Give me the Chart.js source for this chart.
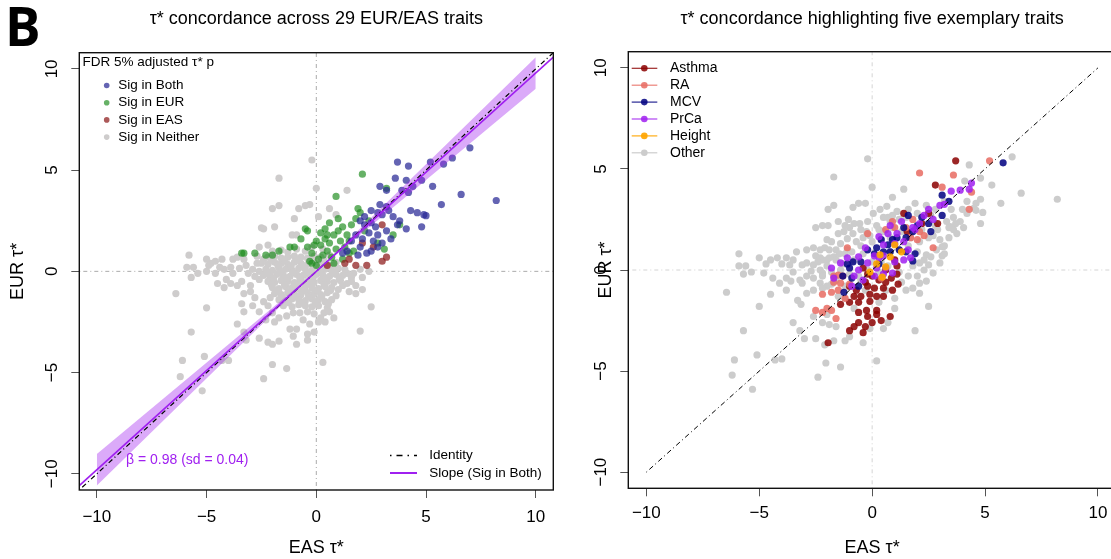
<!DOCTYPE html>
<html>
<head>
<meta charset="utf-8">
<script src="https://cdn.jsdelivr.net/npm/chart.js"></script>
<style>
  html, body { margin: 0; padding: 0; overflow: hidden; background: #fff; }
  body { width: 1111px; height: 559px; position: relative; }
  canvas { position: absolute; top: 0; }
  #left { left: 0; }
  #right { left: 560px; }
  #tag { position: absolute; left: 5px; top: -1px; font: 700 53px/53px "Open Sans", sans-serif; color: #000; }
</style>
</head>
<body>
<canvas id="left" width="570" height="559"></canvas>
<canvas id="right" width="560" height="559"></canvas>
<div id="tag">B</div>
<script>
const FONT = '"Liberation Sans", Arial, sans-serif';
Chart.defaults.font.family = FONT;
Chart.defaults.color = '#000';

// axes
const tickVals = [-10, -5, 0, 5, 10];
const axisLimits = [-10.8, 10.8];

// slope fit (Sig in Both) and its band
const slopeBeta = 0.98;
const slopeSd = 0.04;
const bandX = [-10, 0, 10];
const bandUpper = [-9.02, 0, 10.58];
const bandLower = [-10.58, 0, 9.02];
const identityRight = [-10, 10];

// left panel: EAS tau*, EUR tau* by significance
const sigBoth = [
  [7.0,6.1],[3.7,5.4],[4.2,5.2],[5.2,5.4],[6.2,5.6],[5.8,5.3],[3.6,4.6],[4.1,4.5],[4.8,4.5],[4.4,4.2],
  [5.3,4.2],[2.9,4.2],[3.2,4.0],[3.9,4.0],[4.2,3.9],[6.6,3.8],[8.2,3.5],[5.7,3.3],[4.3,3.0],[4.6,2.9],
  [4.9,2.8],[5.0,2.75],[4.8,2.2],[4.1,2.1],[2.9,3.3],[3.2,3.2],[2.8,2.9],[3.0,2.8],[3.3,3.0],[2.5,2.4],
  [2.2,2.3],[2.0,2.5],[2.4,1.9],[2.8,1.8],[3.2,2.0],[3.4,1.6],[3.7,2.3],[3.8,2.5],[3.0,1.4],[2.8,1.2],
  [1.8,1.8],[1.6,1.5],[2.0,1.2],[2.3,0.9],[1.9,0.8],[2.5,1.0],[2.6,1.5],[2.2,2.7],[2.5,3.0],[3.5,2.7],
  [1.4,1.0],[1.2,0.9],[2.1,1.6],[2.7,2.2]
];
const sigEUR = [
  [2.1,4.8],[3.2,4.1],[0.9,3.7],[1.9,3.1],[3.8,2.3],[3.5,1.8],[3.1,1.1],[-0.5,2.1],[-0.4,2.0],[-0.7,1.6],
  [-0.4,1.2],[-1.0,1.2],[-1.2,1.2],[-1.7,1.0],[-2.0,0.8],[-2.3,0.8],[-2.8,0.9],[-3.3,0.9],[-3.4,0.9],[0.4,2.1],
  [0.0,1.5],[0.2,1.3],[0.4,1.6],[0.6,1.4],[0.8,1.8],[1.0,2.0],[1.2,2.2],[1.4,1.8],[1.6,2.3],[0.5,1.0],
  [0.3,0.8],[0.1,0.6],[-0.2,0.9],[-0.3,0.5],[0.0,0.3],[0.7,0.7],[0.9,1.1],[1.1,1.5],[1.3,1.2],[1.5,1.5],
  [1.7,1.0],[0.6,2.4],[1.8,2.6],[2.0,2.9],[1.2,0.6],[0.2,1.9],[-0.1,1.3],[0.8,0.4],[1.5,0.9],[2.2,2.0],
  [2.8,1.4],[1.0,2.6],[0.5,1.8],[-0.2,0.4],[2.4,2.5]
];
const sigEAS = [
  [3.2,0.7],[3.0,0.5],[2.3,0.3],[1.8,0.3],[1.3,0.4],[2.6,1.2],[2.1,1.4],[3.0,2.3],[0.5,0.3],[1.5,0.6]
];
const sigNeither = [
  [-0.2,5.5],[-1.7,4.6],[0.0,4.1],[1.4,4.0],[-1.7,3.25],[-2.0,3.1],[-0.8,3.1],[-0.5,3.25],[-0.3,3.3],[0.1,2.7],
  [0.6,3.1],[0.9,2.8],[-2.5,2.15],[-2.4,2.1],[-1.9,2.2],[-1.0,2.6],[-1.1,1.8],[-0.9,1.8],[-2.6,1.2],[-2.2,1.3],
  [-5.8,0.8],[-5.0,0.6],[-4.8,0.4],[-4.6,0.5],[-4.3,0.6],[-5.9,0.2],[-5.6,0.2],[-5.4,-0.1],[-5.0,0.0],[-5.7,-0.3],
  [-6.4,-1.1],[-5.0,-1.8],[-5.7,-3.0],[-4.2,0.1],[-3.9,0.2],[-3.8,-0.1],[-4.1,-0.4],[-3.6,-0.7],[-4.5,-0.6],[-4.2,-0.8],
  [-4.6,-0.1],[-3.4,-0.5],[-3.0,-0.7],[-3.3,-1.1],[-3.0,-1.0],[-3.1,-0.1],[-2.9,0.1],[-2.6,0.0],[-2.6,-0.4],[-2.4,0.6],
  [-2.7,0.4],[-3.2,0.3],[-3.8,0.6],[-3.6,0.7],[-3.3,0.6],[-3.4,-1.6],[-3.3,-2.0],[-2.9,-1.7],[-2.4,-1.5],[-2.6,-2.0],
  [-2.2,-1.7],[-2.0,-2.05],[-2.3,-2.4],[-1.9,-2.5],[-1.7,-2.3],[-1.35,-2.2],[-1.05,-2.05],[-0.75,-2.05],[-3.6,-2.6],[-3.3,-3.0],
  [-2.6,-3.3],[-2.2,-3.5],[-1.7,-3.45],[-2.0,-3.6],[-1.2,-2.85],[-0.9,-2.85],[-1.05,-3.2],[-0.9,-3.6],[-0.4,-3.4],[-0.4,-3.1],
  [-0.1,-3.0],[0.1,-2.5],[0.4,-2.5],[0.8,-2.3],[0.35,-2.05],[1.5,-1.0],[1.8,-1.1],[2.1,-0.9],[2.5,-1.75],[2.0,-2.95],
  [2.4,0.0],[0.3,-4.5],[-1.35,-4.8],[-2.0,-4.6],[-2.4,-5.3],[-4.3,-4.4],[-4.0,-4.4],[-5.1,-4.2],[-6.1,-4.4],[-6.2,-5.2],
  [-5.2,-5.9],[-3.2,-3.4],[1.4,-0.1],[1.7,-0.1],[2.0,0.1],[2.1,-0.3],[1.6,-0.5],[1.2,-0.7],[1.8,-0.7],
  [-2.0,1.0],[-1.6,1.05],[-1.3,0.95],[-0.9,1.1],[-0.5,1.0],[-0.2,1.2],[0.3,1.1],
  [-2.2,0.7],[-1.9,0.75],[-1.6,0.65],[-1.3,0.7],[-1.0,0.75],[-0.7,0.7],[-0.4,0.65],[-0.1,0.75],[0.2,0.7],[0.6,0.8],
  [-2.5,0.4],[-2.2,0.35],[-1.9,0.45],[-1.6,0.4],[-1.3,0.35],[-1.0,0.45],[-0.7,0.4],[-0.4,0.35],[-0.1,0.45],[0.2,0.4],[0.5,0.35],[0.9,0.45],
  [-2.3,0.1],[-2.0,0.05],[-1.7,0.15],[-1.4,0.1],[-1.1,0.05],[-0.8,0.15],[-0.5,0.1],[-0.2,0.05],[0.1,0.15],[0.4,0.1],[0.7,0.05],[1.0,0.15],[1.3,0.1],
  [-2.4,-0.2],[-2.1,-0.25],[-1.8,-0.15],[-1.5,-0.2],[-1.2,-0.25],[-0.9,-0.15],[-0.6,-0.2],[-0.3,-0.25],[0.0,-0.15],[0.3,-0.2],[0.6,-0.25],[0.9,-0.15],[1.2,-0.2],[1.6,-0.3],
  [-2.2,-0.5],[-1.9,-0.55],[-1.6,-0.45],[-1.3,-0.5],[-1.0,-0.55],[-0.7,-0.45],[-0.4,-0.5],[-0.1,-0.55],[0.2,-0.45],[0.5,-0.5],[0.8,-0.55],[1.1,-0.45],[1.4,-0.6],
  [-2.0,-0.8],[-1.7,-0.85],[-1.4,-0.75],[-1.1,-0.8],[-0.8,-0.85],[-0.5,-0.75],[-0.2,-0.8],[0.1,-0.85],[0.4,-0.75],[0.7,-0.8],[1.0,-0.9],
  [-1.9,-1.1],[-1.6,-1.15],[-1.3,-1.05],[-1.0,-1.1],[-0.7,-1.15],[-0.4,-1.05],[-0.1,-1.1],[0.2,-1.15],[0.5,-1.05],[0.9,-1.2],
  [-1.7,-1.4],[-1.4,-1.45],[-1.1,-1.35],[-0.8,-1.4],[-0.5,-1.45],[-0.2,-1.35],[0.1,-1.4],[0.4,-1.5],[0.7,-1.4],
  [-1.5,-1.7],[-1.1,-1.75],[-0.8,-1.65],[-0.5,-1.7],[-0.2,-1.75],[0.1,-1.7],[0.5,-1.8],
  [-0.4,-2.0],[-0.1,-2.1],[0.2,-2.3],[-0.6,-2.4],[-0.3,-2.6],[0.6,-2.0],
  [-2.05,0.55],[-1.75,0.3],[-1.45,0.55],[-1.15,0.25],[-0.85,0.55],[-0.55,0.25],[-0.25,0.55],[0.05,0.3],[0.35,0.55],[0.75,0.3],
  [-2.25,-0.05],[-1.95,-0.35],[-1.65,-0.05],[-1.35,-0.35],[-1.05,-0.05],[-0.75,-0.35],[-0.45,-0.05],[-0.15,-0.35],[0.15,-0.05],[0.45,-0.35],[0.75,-0.05],[1.05,-0.35],
  [-2.05,-0.65],[-1.75,-0.95],[-1.45,-0.65],[-1.15,-0.95],[-0.85,-0.65],[-0.55,-0.95],[-0.25,-0.65],[0.05,-0.95],[0.35,-0.65],[0.65,-0.95],
  [-1.55,-1.25],[-1.25,-1.55],[-0.95,-1.25],[-0.65,-1.55],[-0.35,-1.25],[-0.05,-1.55],[0.25,-1.25],[0.55,-1.6],
  [-2.8,-0.25],[-2.7,0.75],[-3.5,0.15],[-2.8,-1.3],[-4.9,0.3],[-4.4,0.2],[-3.9,-0.6],[-2.1,-1.3]
];

// right panel: same tau* pairs by trait
const asthma = [
  [3.7,5.4],[2.8,4.2],[1.4,2.8],[2.5,2.8],[2.9,2.3],[1.55,1.9],[2.2,2.3],[1.1,-0.2],[1.15,-0.7],[0.8,-2.3],
  [0.4,-2.5],[0.2,-2.0],[-0.3,-2.8],[-0.4,-3.1],[-0.8,-2.8],[-1.0,-3.0],[-1.95,-3.6],[-1.4,-1.7],[-1.0,-1.6],[-0.6,-1.6],
  [-0.1,-1.55],[-0.25,-2.0],[-0.6,-2.1],[-0.2,-2.3],[0.2,-2.2],[-0.2,-0.8],[-0.1,-1.2],[0.2,-1.3],[0.5,-1.3],[0.1,-0.9],
  [0.5,-0.9],[0.3,-0.5],[0.6,-0.6],[0.85,-0.4],[0.0,-0.3],[-0.7,-1.0],[-0.8,-1.3],[-0.5,-1.3],[-1.0,-0.8],[-0.4,0.1],
  [-0.2,-0.2],[-0.3,-0.6],[1.1,0.2],[1.0,0.5],[0.6,0.0],[0.9,-1.0],[-0.6,-2.6],[0.0,-2.6]
];
const ra = [
  [5.2,5.4],[2.1,4.8],[3.6,4.7],[3.1,4.1],[4.4,3.85],[4.3,3.0],[2.7,1.1],[2.3,1.7],[1.5,2.1],[2.1,1.9],
  [-1.1,1.1],[-2.2,-1.2],[-1.8,-1.1],[-1.5,-1.0],[-1.4,-0.65],[-1.7,-0.6],[-2.5,-2.0],[-2.2,-2.1],[-2.0,-1.9],[-1.8,-2.0],
  [-1.6,-2.4],[-1.5,-0.25],[-1.3,-0.3],[-1.7,-0.3],[-0.2,1.8],[0.6,2.0],[1.0,2.1],[1.7,1.6],[2.0,1.5],[-1.0,-0.7],
  [-1.2,-1.4],[0.4,-0.4],[1.8,2.5],[0.9,2.4]
];
const mcv = [
  [5.8,5.3],[3.1,3.7],[3.4,3.4],[3.1,2.7],[1.6,2.7],[1.4,2.1],[2.5,2.3],[2.6,1.9],[1.5,1.6],[1.1,1.6],
  [0.7,1.25],[0.8,0.9],[0.5,0.9],[0.2,1.1],[-0.2,1.0],[0.1,0.8],[-1.1,0.3],[-0.85,0.4],[-1.0,0.1],[-0.9,-0.4],
  [-1.3,-0.3],[-1.25,-1.1],[-0.6,-0.8],[1.8,0.45],[1.9,0.8],[1.5,0.9],[0.9,1.5],[0.4,1.5],[2.0,2.2],[1.2,1.0],
  [-0.5,0.4],[0.3,0.3],[2.2,2.6],[1.8,1.9]
];
const prca = [
  [4.4,4.3],[3.9,3.95],[4.3,4.0],[3.0,3.2],[3.2,3.25],[2.5,3.0],[2.3,2.7],[1.3,2.4],[2.1,2.3],[1.8,2.1],
  [1.9,2.0],[0.7,1.8],[1.1,1.8],[0.3,1.65],[0.5,1.25],[1.0,1.3],[1.4,1.4],[0.1,0.7],[0.5,0.7],[1.0,0.4],
  [1.4,0.5],[1.7,0.6],[-0.6,0.65],[-0.2,0.35],[0.2,0.1],[0.6,0.1],[0.1,-0.3],[0.5,-0.2],[0.9,-0.15],[-1.8,0.1],
  [-1.7,-0.4],[-1.4,0.35],[-0.8,-0.3],[-0.4,-0.5],[-0.6,0.0],[-1.1,0.6],[-0.3,1.1],[0.8,2.2],[1.6,1.0],[2.7,2.5],
  [-0.9,-0.8],[0.3,0.6],[3.5,3.9]
];
const height = [
  [0.2,0.3],[0.6,0.15],[0.8,0.65],[1.0,1.25],[0.35,0.75],[-0.1,-0.1],[0.45,-0.35],[1.3,0.9]
];
const other = [
  [-0.2,5.5],[-1.7,4.6],[0.0,4.1],[1.4,4.0],[0.9,3.6],[4.3,5.2],[6.2,5.6],[4.8,4.55],[5.3,4.2],[4.1,4.4],
  [4.2,3.4],[4.6,2.95],[4.9,2.85],[4.8,2.3],[6.6,3.8],[8.2,3.5],[5.7,3.3],[4.05,2.1],[3.7,2.3],[3.6,2.6],
  [3.4,2.1],[3.1,1.15],[3.1,0.7],[3.2,0.8],[2.5,-1.8],[1.9,-3.0],[0.2,-4.5],[-1.4,-4.8],[-2.05,-4.6],[-2.4,-5.3],
  [-1.7,-3.5],[-2.1,-3.7],[-2.5,-3.4],[-3.2,-3.0],[-3.5,-2.6],[-3.0,-3.4],[-4.3,-4.45],[-4.0,-4.4],[-5.1,-4.2],[-5.7,-3.0],
  [-6.1,-4.45],[-6.2,-5.2],[-5.3,-5.9],[-6.45,-1.1],[-5.0,-1.8],[-4.5,-1.2],[-3.15,-1.7],
  [-5.9,0.8],[-5.9,0.2],[-5.6,0.2],[-5.7,-0.2],[-5.35,-0.1],[-5.0,0.6],[-4.7,0.3],[-4.5,0.5],[-4.2,0.6],
  [-4.0,0.3],[-3.8,0.6],[-3.65,0.25],[-3.5,0.5],[-4.8,-0.15],[-4.4,-0.4],[-4.1,-0.65],[-3.8,-0.4],[-3.6,-0.55],[-3.2,-0.5],
  [-3.5,-0.1],[-3.1,0.25],[-3.35,0.9],[-2.9,1.0],[-2.6,1.1],[-2.5,0.7],[-2.2,0.5],[-2.3,1.0],[-2.0,1.5],[-2.2,2.2],
  [-1.95,2.2],[-2.5,2.1],[-1.95,3.0],[-1.7,3.2],[-0.85,3.1],[-0.6,3.3],[-0.3,3.3],[0.05,2.8],[0.35,3.0],[0.65,3.15],
  [0.9,2.7],[0.8,2.4],[0.5,2.6],[-1.05,2.5],[-1.0,2.1],[-0.55,2.3],[-0.25,1.9],[-0.85,1.8],[-1.1,1.55],[-1.25,1.9],
  [-1.6,1.0],[-1.45,0.8],[-1.9,1.0],[-2.3,0.6],[-2.0,0.5],[-1.7,0.65],[-2.9,0.35],[-2.6,0.25],[-2.7,-0.05],[-2.3,0.0],
  [-2.2,-0.15],[-2.3,-0.65],[-2.0,-0.8],[-2.6,-1.0],[-2.9,-1.15],[-3.1,-0.65],[-2.9,-0.3],
  [2.1,-1.15],[1.8,-0.9],[1.5,-1.0],[2.1,-0.65],[2.4,-0.55],[2.7,-0.15],[2.5,0.25],[2.1,0.35],[2.4,0.75],[2.85,1.0],
  [3.15,1.15],[3.0,0.35],[2.6,0.65],[2.3,0.0],[3.0,1.5],[3.4,1.6],[3.6,2.0],[3.9,2.4],[4.2,2.8],[4.5,3.05],
  [3.45,2.15],[3.75,1.8],[3.2,1.2],[2.7,1.7],[2.9,2.0],[3.3,2.4],[4.0,3.0],[4.6,3.3],[4.8,3.5],
  [-1.5,2.4],[-1.2,2.2],[-0.8,2.3],[-0.5,2.0],[-0.2,2.4],[0.2,2.2],[0.5,1.9],[0.9,2.1],[1.2,2.5],[1.6,3.0],
  [2.0,2.8],[2.4,3.2],[2.8,3.0],[3.2,3.4],[3.5,3.0],[-1.8,1.4],[-1.4,1.3],[-1.1,1.0],[-0.7,1.4],[-0.4,1.6],
  [0.0,1.4],[0.4,1.5],[0.8,1.6],[1.3,1.9],[1.7,1.6],[2.1,1.4],[2.5,1.6],[2.8,2.2],[-2.4,0.4],[-2.0,0.2],
  [-1.6,0.5],[-1.2,0.8],[-0.8,0.5],[-0.4,0.8],[0.0,0.4],[0.4,0.4],[0.8,0.9],[1.2,1.0],[1.6,1.2],[2.0,0.9],
  [2.3,0.5],[1.8,0.2],[-2.6,-0.4],[-2.2,-0.3],[-1.8,-0.1],[-1.4,0.0],[-1.0,-0.2],[-0.6,-0.3],[-0.2,0.0],[0.3,-0.1],
  [0.7,0.2],[1.2,-0.1],[1.6,-0.3],[2.0,-0.3],[-2.2,-0.9],[-1.8,-0.7],[-1.5,-1.3],[-1.2,-1.4],[-0.8,-1.9],[-0.3,-1.0],
  [0.3,-1.6],[0.6,-1.0],[1.0,-1.4],[1.3,-0.6],[-2.0,-2.2],[-1.6,-2.8],[-1.2,-3.5],[-0.4,-3.6],[0.5,-2.9],[-1.0,-3.3],
  [0.7,-2.6],[-2.2,-2.6],[-0.1,-2.9],[-2.6,-2.3],[-1.9,-2.7],[1.0,-1.9],[-3.3,-1.5],[-3.8,-1.0],
  [-0.9,0.9],[-0.5,1.2],[-0.1,1.7],[0.3,2.0],[0.7,2.6],[1.1,2.9],[1.5,2.6],[1.9,3.3],[2.2,2.0],[2.6,2.7],
  [-1.3,0.3],[-1.6,-0.5],[-1.9,0.6],[-2.1,1.1],[-1.5,1.8],[-1.2,-0.8],[-0.5,-0.5]
];

const sigLabels = ['Sig in Both', 'Sig in EUR', 'Sig in EAS', 'Sig in Neither'];
const sigColors = ['rgba(40,40,150,0.72)', 'rgba(30,140,30,0.68)', 'rgba(140,25,25,0.72)', 'rgb(206,204,204)'];
const traitLabels = ['Asthma', 'RA', 'MCV', 'PrCa', 'Height', 'Other'];
const traitColors = ['rgba(139,0,0,0.85)', 'rgba(232,112,102,0.88)', 'rgba(0,0,128,0.85)', 'rgba(160,32,240,0.85)', 'rgba(255,165,0,0.92)', 'rgb(204,204,204)'];
const PURPLE = 'rgb(160,32,240)';

const toXY = arr => arr.map(([x, y]) => ({ x, y }));
const fmt = v => (v < 0 ? '\u2212' + Math.abs(v) : String(v));

function dots(label, data, color, order) {
  return { type: 'scatter', label, data: toXY(data), backgroundColor: color, borderWidth: 0,
           pointRadius: 3.6, pointHoverRadius: 3.6, order };
}
function line(xs, ys, color, width, dash, order, extra) {
  return Object.assign({ type: 'line', data: xs.map((x, i) => ({ x, y: ys[i] })), borderColor: color,
    borderWidth: width, borderDash: dash, pointRadius: 0, fill: false, tension: 0, order }, extra || {});
}

function axes(o) {
  const base = () => ({
    type: 'linear', min: axisLimits[0], max: axisLimits[1],
    afterBuildTicks: s => { s.ticks = tickVals.map(v => ({ value: v })); },
    grid: { drawOnChartArea: false, drawTicks: true, tickLength: 8, color: '#555', lineWidth: 1 },
    border: { display: false }
  });
  return {
    x: Object.assign(base(), {
      position: 'bottom',
      ticks: { font: { size: 17 }, color: '#000', padding: o.xPad, maxRotation: 0, callback: v => fmt(v) },
      title: { display: true, text: 'EAS τ*', font: { size: 18 }, color: '#000', padding: { top: 0, bottom: 0 } },
      afterFit: s => { s.height = o.xH; }
    }),
    y: Object.assign(base(), {
      position: 'left',
      ticks: { display: false },
      title: { display: true, text: 'EUR τ*', font: { size: 18 }, color: '#000', padding: { top: o.yTitle, bottom: 0 } },
      afterFit: s => { s.width = o.yW; }
    })
  };
}

// box, rotated y tick labels (R style) and the panel title
const frame = {
  id: 'frame',
  afterDraw(chart, args, opts) {
    const { ctx, chartArea: a } = chart;
    const ys = chart.scales.y;
    ctx.save();
    ctx.strokeStyle = '#111';
    ctx.lineWidth = 1.4;
    ctx.strokeRect(a.left, a.top, a.right - a.left, a.bottom - a.top);
    ctx.fillStyle = '#000';
    ctx.font = '17px ' + FONT;
    ctx.textAlign = 'center';
    ctx.textBaseline = 'middle';
    tickVals.forEach(v => {
      ctx.save();
      ctx.translate(a.left - 27, ys.getPixelForValue(v));
      ctx.rotate(-Math.PI / 2);
      ctx.fillText(fmt(v), 0, 0);
      ctx.restore();
    });
    ctx.font = '18px ' + FONT;
    ctx.textBaseline = 'alphabetic';
    ctx.fillText(opts.title, (a.left + a.right) / 2, 24);
    ctx.restore();
  }
};

const leftLegend = {
  id: 'leftLegend',
  afterDraw(chart) {
    const ctx = chart.ctx;
    ctx.save();
    ctx.font = '13.5px ' + FONT;
    ctx.textAlign = 'left';
    ctx.textBaseline = 'middle';
    ctx.fillStyle = '#000';
    ctx.fillText('FDR 5% adjusted τ* p', 82.5, 62.5);
    sigLabels.forEach((lab, i) => {
      const y = 85.5 + i * 17.2;
      ctx.beginPath();
      ctx.arc(106.7, y, 2.8, 0, Math.PI * 2);
      ctx.fillStyle = sigColors[i];
      ctx.fill();
      ctx.fillStyle = '#000';
      ctx.fillText(lab, 118.3, y);
    });
    // fit legend, bottom right
    ctx.lineWidth = 1.5;
    ctx.strokeStyle = '#000';
    ctx.setLineDash([1.5, 5, 6, 5]);
    ctx.beginPath(); ctx.moveTo(390, 455.5); ctx.lineTo(417, 455.5); ctx.stroke();
    ctx.setLineDash([]);
    ctx.strokeStyle = PURPLE;
    ctx.lineWidth = 2;
    ctx.beginPath(); ctx.moveTo(390, 473); ctx.lineTo(417, 473); ctx.stroke();
    ctx.fillStyle = '#000';
    ctx.fillText('Identity', 429.3, 455.5);
    ctx.fillText('Slope (Sig in Both)', 429.3, 473);
    ctx.font = '14px ' + FONT;
    ctx.fillStyle = PURPLE;
    ctx.fillText('β = ' + slopeBeta.toFixed(2) + ' (sd = ' + slopeSd.toFixed(2) + ')', 126, 460);
    ctx.restore();
  }
};

const rightLegend = {
  id: 'rightLegend',
  afterDraw(chart) {
    const ctx = chart.ctx;
    ctx.save();
    ctx.font = '14px ' + FONT;
    ctx.textAlign = 'left';
    ctx.textBaseline = 'middle';
    traitLabels.forEach((lab, i) => {
      const y = 68.3 + i * 16.9;
      const c = traitColors[i];
      ctx.strokeStyle = c;
      ctx.lineWidth = 1.2;
      ctx.beginPath(); ctx.moveTo(71.7, y); ctx.lineTo(97.3, y); ctx.stroke();
      ctx.beginPath(); ctx.arc(84.3, y, 3.3, 0, Math.PI * 2);
      ctx.fillStyle = c; ctx.fill();
      ctx.fillStyle = '#000';
      ctx.fillText(lab, 110, y);
    });
    ctx.restore();
  }
};

const common = {
  responsive: false,
  animation: false,
  events: [],
  plugins: { legend: { display: false }, tooltip: { enabled: false } }
};

new Chart(document.getElementById('left'), {
  type: 'scatter',
  data: {
    datasets: [
      line([0, 0], axisLimits, '#aaa', 1, [1, 3, 4, 3], 9),
      line(axisLimits, [0, 0], '#aaa', 1, [1, 3, 4, 3], 9),
      dots(sigLabels[3], sigNeither, sigColors[3], 8),
      dots(sigLabels[1], sigEUR, sigColors[1], 7),
      dots(sigLabels[2], sigEAS, sigColors[2], 6),
      dots(sigLabels[0], sigBoth, sigColors[0], 5),
      line(bandX, bandUpper, 'rgba(0,0,0,0)', 0, [], 4, { fill: '+1', backgroundColor: 'rgba(160,32,240,0.38)' }),
      line(bandX, bandLower, 'rgba(0,0,0,0)', 0, [], 4),
      line(axisLimits, axisLimits, '#000', 1.2, [1, 3, 5, 3], 2),
      line(axisLimits, axisLimits.map(v => v * slopeBeta), PURPLE, 1.6, [], 1)
    ]
  },
  options: Object.assign({}, common, {
    layout: { padding: { top: 52.7, right: 16.7, left: 0, bottom: 0 } },
    scales: axes({ xPad: 9.3, xH: 69, yW: 79.3, yTitle: 7.2 }),
    plugins: Object.assign({}, common.plugins, { frame: { title: 'τ* concordance across 29 EUR/EAS traits' } })
  }),
  plugins: [frame, leftLegend]
});

new Chart(document.getElementById('right'), {
  type: 'scatter',
  data: {
    datasets: [
      line([0, 0], axisLimits, '#d4d4d4', 1, [1, 3, 4, 3], 9),
      line(axisLimits, [0, 0], '#d4d4d4', 1, [1, 3, 4, 3], 9),
      dots(traitLabels[5], other, traitColors[5], 8),
      dots(traitLabels[0], asthma, traitColors[0], 7),
      dots(traitLabels[1], ra, traitColors[1], 6),
      dots(traitLabels[2], mcv, traitColors[2], 5),
      dots(traitLabels[3], prca, traitColors[3], 4),
      dots(traitLabels[4], height, traitColors[4], 3),
      line(identityRight, identityRight, '#000', 1, [1, 3, 5, 3], 1)
    ]
  },
  options: Object.assign({}, common, {
    layout: { padding: { top: 51.7, right: 4, left: 0, bottom: 0 } },
    scales: axes({ xPad: 6.8, xH: 70.7, yW: 68.3, yTitle: 35.2 }),
    plugins: Object.assign({}, common.plugins, { frame: { title: 'τ* concordance highlighting five exemplary traits' } })
  }),
  plugins: [frame, rightLegend]
});
</script>
</body>
</html>
